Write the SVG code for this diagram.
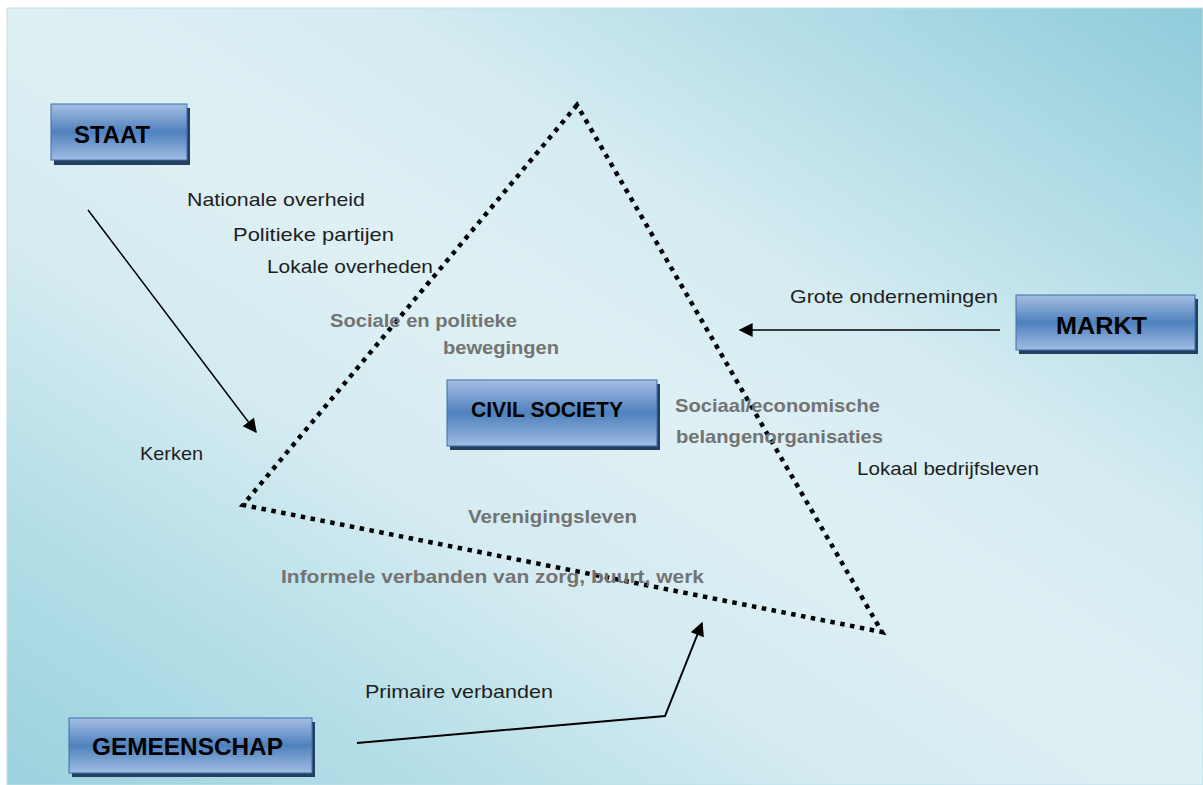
<svg xmlns="http://www.w3.org/2000/svg" width="1203" height="785" viewBox="0 0 1203 785">
  <defs>
    <linearGradient id="bg" x1="1" y1="0" x2="0" y2="1">
      <stop offset="0" stop-color="#8ecbda"/>
      <stop offset="0.18" stop-color="#b3dde7"/>
      <stop offset="0.35" stop-color="#d6ecf2"/>
      <stop offset="0.5" stop-color="#def0f4"/>
      <stop offset="0.65" stop-color="#d4ebf1"/>
      <stop offset="0.82" stop-color="#b4dee7"/>
      <stop offset="1" stop-color="#9bd2de"/>
    </linearGradient>
    <linearGradient id="box" x1="0" y1="0" x2="0" y2="1">
      <stop offset="0" stop-color="#a6bfe4"/>
      <stop offset="0.5" stop-color="#4f81bd"/>
      <stop offset="1" stop-color="#a0bce2"/>
    </linearGradient>
    <marker id="arrow" viewBox="0 0 10 10" refX="9" refY="5" markerUnits="userSpaceOnUse" markerWidth="16" markerHeight="14" orient="auto">
      <path d="M0,0 L10,5 L0,10 z" fill="#000"/>
    </marker>
    <style>
      .shadow { fill: #243f60; }
      .box { fill: url(#box); stroke: #3d6ea8; stroke-width: 1; }
      .boxlabel { font-family: "Liberation Sans", Arial, sans-serif; font-weight: bold; fill: #000; }
      .dark { font-family: "Liberation Sans", Arial, sans-serif; font-size: 19px; fill: #1e1e1e; }
      .gray { font-family: "Liberation Sans", Arial, sans-serif; font-size: 19px; font-weight: bold; fill: #737373; }
      .conn { fill: none; stroke: #000; }
      .dots { fill: none; stroke: #000; stroke-width: 4.5; stroke-dasharray: 4.5 5.5; stroke-linejoin: miter; }
    </style>
  </defs>

  <rect x="0" y="0" width="1203" height="785" fill="#ffffff"/>
  <rect x="7" y="8" width="1196" height="777" fill="url(#bg)" stroke="#bfe0e8" stroke-width="1"/>

  <g id="triangle">
    <path class="dots" d="M577,105 L243,505 L882,632 Z"/>
  </g>

  <g id="connectors">
    <path class="conn" stroke-width="1.5" d="M88,210 L256,432" marker-end="url(#arrow)"/>
    <path class="conn" stroke-width="1.5" d="M1000,330 L740,330" marker-end="url(#arrow)"/>
    <path class="conn" stroke-width="2" d="M357,743 L665,716 L702,623" marker-end="url(#arrow)"/>
  </g>

  <g id="staat">
    <rect class="shadow" x="54" y="108" width="136" height="57"/>
    <rect class="box" x="51" y="104" width="136" height="56"/>
    <text class="boxlabel" x="74" y="143" font-size="23" textLength="76" lengthAdjust="spacingAndGlyphs">STAAT</text>
  </g>

  <g id="civil-society">
    <rect class="shadow" x="450" y="384" width="210" height="66"/>
    <rect class="box" x="447" y="380" width="210" height="66"/>
    <text class="boxlabel" x="471" y="417" font-size="22" textLength="152" lengthAdjust="spacingAndGlyphs">CIVIL SOCIETY</text>
  </g>

  <g id="markt">
    <rect class="shadow" x="1019" y="299" width="179" height="55"/>
    <rect class="box" x="1016" y="295" width="179" height="55"/>
    <text class="boxlabel" x="1056" y="334" font-size="23" textLength="91" lengthAdjust="spacingAndGlyphs">MARKT</text>
  </g>

  <g id="gemeenschap">
    <rect class="shadow" x="72" y="722" width="243" height="55"/>
    <rect class="box" x="69" y="718" width="243" height="55"/>
    <text class="boxlabel" x="92" y="755" font-size="23" textLength="191" lengthAdjust="spacingAndGlyphs">GEMEENSCHAP</text>
  </g>

  <g id="labels">
    <text class="dark" x="187" y="206" textLength="178" lengthAdjust="spacingAndGlyphs">Nationale overheid</text>
    <text class="dark" x="233" y="241" textLength="161" lengthAdjust="spacingAndGlyphs">Politieke  partijen</text>
    <text class="dark" x="267" y="273" textLength="166" lengthAdjust="spacingAndGlyphs">Lokale overheden</text>
    <text class="dark" x="140" y="460" textLength="63" lengthAdjust="spacingAndGlyphs">Kerken</text>
    <text class="dark" x="790" y="303" textLength="208" lengthAdjust="spacingAndGlyphs">Grote ondernemingen</text>
    <text class="dark" x="857" y="475" textLength="182" lengthAdjust="spacingAndGlyphs">Lokaal bedrijfsleven</text>
    <text class="dark" x="365" y="698" textLength="188" lengthAdjust="spacingAndGlyphs">Primaire verbanden</text>

    <text class="gray" x="330" y="327" textLength="187" lengthAdjust="spacingAndGlyphs">Sociale en politieke</text>
    <text class="gray" x="443" y="354" textLength="116" lengthAdjust="spacingAndGlyphs">bewegingen</text>
    <text class="gray" x="675" y="412" textLength="205" lengthAdjust="spacingAndGlyphs">Sociaal/economische</text>
    <text class="gray" x="676" y="443" textLength="207" lengthAdjust="spacingAndGlyphs">belangenorganisaties</text>
    <text class="gray" x="468" y="523" textLength="169" lengthAdjust="spacingAndGlyphs">Verenigingsleven</text>
    <text class="gray" x="281" y="583" textLength="423" lengthAdjust="spacingAndGlyphs">Informele verbanden van zorg, buurt, werk</text>
  </g>
</svg>
